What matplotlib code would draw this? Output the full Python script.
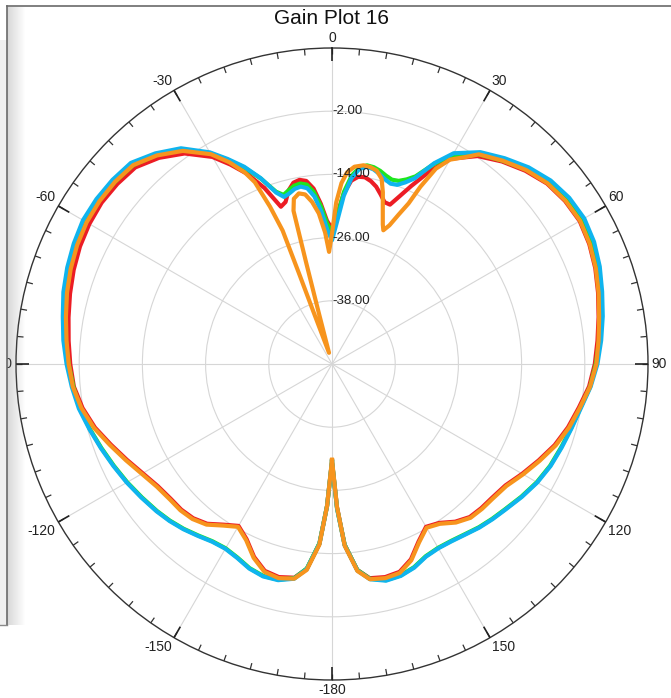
import numpy as np
import matplotlib.pyplot as plt
from matplotlib.patches import Rectangle
from matplotlib.lines import Line2D

plt.rcParams['font.family'] = ['Liberation Sans', 'DejaVu Sans']

# angles (deg, clockwise from top) shared by the red, green and blue traces
ang = [-180, -178, -176, -173, -170, -166, -162, -158, -154, -150, -146, -142, -138, -134, -130,
       -125, -120, -115, -110, -105, -100, -95, -90, -85, -80, -75, -70, -65, -60, -55, -50, -45,
       -40, -35, -30, -27, -24, -21, -18, -16, -14, -12, -10, -8, -6, -4, -2, 0,
       2, 4, 6, 8, 10, 12, 14, 16, 18, 20, 22, 24, 27, 30, 35, 40, 45, 50, 55, 60, 65, 70,
       75, 80, 85, 90, 95, 100, 105, 110, 115, 120, 125, 130, 134, 138, 142, 146, 150, 154,
       158, 162, 166, 170, 173, 176, 178, 180]

gain_blue = [-31.5, -23.0, -15.8, -10.8, -8.6, -7.7, -7.6, -8.1, -9.0, -9.5, -9.3, -8.6, -7.8, -7.1, -6.5,
             -5.8, -5.0, -4.2, -3.3, -2.3, -1.2, -0.4, 0.4, 1.2, 1.9, 2.8, 3.5, 4.1, 4.6, 4.6, 4.4, 4.0,
             2.2, 0.0, -3.6, -6.3, -9.0, -12.2, -15.8, -17.0, -16.6, -16.0, -15.8, -16.3, -18.0, -21.0, -24.5, -26.5,
             -23.0, -18.0, -14.5, -12.6, -12.0, -12.2, -12.8, -13.5, -14.0, -13.8, -12.8, -11.4, -7.2, -3.8, -0.9, 1.0,
             2.8, 4.2, 5.0, 5.3, 4.9, 4.1, 3.1, 2.2, 1.3, 0.4, -0.7, -2.0, -2.9, -3.6, -4.2, -5.0, -6.0, -7.0,
             -7.6, -8.2, -8.9, -9.4, -9.6, -9.3, -8.3, -7.7, -7.6, -8.5, -10.5, -15.5, -22.5, -31.5]

gain_green = [-31.5, -23.0, -15.9, -10.9, -8.7, -7.8, -7.7, -8.2, -9.1, -9.6, -9.4, -8.7, -7.9, -7.2, -6.6,
              -5.9, -5.1, -4.3, -3.4, -2.4, -1.4, -0.7, 0.0, 0.7, 1.4, 2.2, 2.9, 3.5, 3.9, 4.0, 3.8, 3.4,
              1.8, -0.3, -3.8, -6.5, -9.2, -12.3, -15.6, -16.6, -16.0, -15.4, -15.2, -15.6, -17.2, -20.0, -23.3, -25.0,
              -22.0, -17.2, -14.0, -12.3, -11.7, -11.8, -12.2, -12.8, -13.2, -13.0, -12.2, -11.0, -7.4, -4.2, -1.4, 0.4,
              2.2, 3.6, 4.4, 4.7, 4.3, 3.5, 2.6, 1.8, 0.9, 0.1, -0.8, -2.1, -3.0, -3.7, -4.3, -5.1, -6.1, -7.1,
              -7.7, -8.3, -9.0, -9.5, -9.7, -9.4, -8.4, -7.8, -7.7, -8.6, -10.6, -15.6, -22.6, -31.5]

gain_red = [-31.5, -23.0, -15.8, -10.8, -8.8, -8.3, -8.7, -10.5, -13.0, -14.5, -13.2, -11.5, -10.6, -10.2, -10.1,
            -9.6, -8.5, -7.0, -5.3, -3.4, -1.9, -0.8, -0.3, 0.2, 0.8, 1.5, 2.2, 2.8, 3.2, 3.4, 3.2, 2.8,
            1.1, -1.2, -4.6, -7.5, -10.5, -14.2, -18.6, -18.0, -16.0, -14.8, -14.5, -14.9, -16.5, -19.5, -22.8, -24.3,
            -21.5, -17.5, -15.0, -14.1, -14.0, -14.5, -15.3, -16.5, -17.7, -17.8, -15.6, -13.0, -8.8, -5.0, -1.8, 0.2,
            1.9, 3.3, 4.0, 4.3, 3.9, 3.2, 2.3, 1.4, 0.6, -0.1, -1.0, -2.4, -3.6, -5.0, -6.7, -8.3, -9.8, -10.4,
            -10.6, -10.9, -12.0, -13.6, -14.3, -12.5, -10.0, -8.5, -8.3, -8.7, -10.6, -15.6, -22.8, -31.5]

# the orange trace has a deep null near -15 deg, so it gets its own angles
ang_orange = [-180, -178, -176, -173, -170, -166, -162, -158, -154, -150, -146, -142, -138, -134, -130,
              -125, -120, -115, -110, -105, -100, -95, -90, -85, -80, -75, -70, -65, -60, -55, -50, -45,
              -40, -35, -30, -27, -24.5, -23, -21.5, -20.3, -20, -19.5, -15, -14.5, -14.3, -14.1, -13,
              -11, -9, -7, -5, -3, -1.5, 0, 1.5, 3, 4.5, 6.5, 9, 11, 13, 15, 16.5, 18, 20, 21, 22.5,
              24, 25.5, 26.5, 28, 30, 33, 35, 40, 45, 50, 55, 60, 65, 70, 75, 80, 85, 90, 95, 100,
              105, 110, 115, 120, 125, 130, 134, 138, 142, 146, 150, 154, 158, 162, 166, 170, 173,
              176, 178, 180]

gain_orange = [-31.8, -23.0, -15.6, -10.6, -8.6, -8.1, -8.5, -10.3, -12.8, -14.3, -13.0, -11.3, -10.4, -10.0, -9.9,
               -9.4, -8.3, -6.8, -5.1, -3.2, -1.7, -0.6, 0.0, 0.6, 1.3, 2.1, 2.8, 3.4, 3.8, 3.9, 3.8, 3.4,
               1.7, -0.6, -4.0, -7.0, -10.0, -12.5, -17.9, -23.0, -32.0, -40.0, -47.8, -40.0, -30.0, -20.0, -17.8,
               -17.0, -17.4, -19.0, -21.3, -25.0, -28.7, -25.2, -19.3, -15.6, -13.5, -12.3, -11.8, -11.9, -12.3, -13.6,
               -16.0, -18.8, -21.8, -22.8, -21.5, -19.0, -16.2, -12.4, -8.0, -5.2, -3.1, -1.4, 0.4, 2.1, 3.4,
               4.1, 4.4, 4.0, 3.3, 2.4, 1.5, 0.8, 0.2, -0.8, -2.2, -3.4, -4.8, -6.5, -8.1, -9.6, -10.2,
               -10.4, -10.7, -11.8, -13.4, -14.1, -12.3, -9.8, -8.3, -8.1, -8.5, -10.4, -15.4, -22.8, -31.8]

ring_vals = [-38, -26, -14, -2]
theta_ticks = [0, 30, 60, 90, 120, 150, 180, 210, 240, 270, 300, 330]
theta_labels = ['0', '30', '60', '90', '120', '150', '-180', '-150', '-120', '-90', '-60', '-30']
minor_step = 5

W, H = 671, 698
cx, cy, R = 332, 364, 316
fig = plt.figure(figsize=(W / 100, H / 100), dpi=100)
ax = fig.add_axes([(cx - R) / W, (H - cy - R) / H, 2 * R / W, 2 * R / H], projection='polar')
ax.set_theta_zero_location('N')
ax.set_theta_direction(-1)
ax.set_rlim(-50, 10)

ax.set_yticks(ring_vals)
ax.set_yticklabels([])
ax.set_xticks(np.deg2rad(theta_ticks))
ax.set_xticklabels([])
ax.tick_params(axis='both', length=0)
ax.grid(True, color='#d6d6d6', lw=0.8)
ax.spines['polar'].set_color('#333333')
ax.spines['polar'].set_linewidth(1.0)

# inward tick marks on the outer ring
rmin, rmax = ax.get_ylim()
minor = np.deg2rad(np.arange(0, 360, minor_step))
ax.vlines(minor, rmax - 1.2, rmax, colors='#333333', lw=0.9, clip_on=False, zorder=3)
ax.vlines(np.deg2rad(theta_ticks), rmax - 2.4, rmax, colors='#222222', lw=1.2, clip_on=False, zorder=3)

# angle labels just outside the ring, anchored by the side they sit on
for t, lab in zip(theta_ticks, theta_labels):
    s, c = np.sin(np.deg2rad(t)), np.cos(np.deg2rad(t))
    ha = 'left' if s > 0.3 else ('right' if s < -0.3 else 'center')
    va = 'bottom' if c > 0.3 else ('top' if c < -0.3 else 'center')
    ax.text(np.deg2rad(t), rmax + 0.6, lab, ha=ha, va=va, fontsize=10, color='#222222')

for r in ring_vals:
    ax.text(0.0, r, f'{r:.2f}', ha='left', va='center', fontsize=9.5, color='#222222')

ax.plot(np.deg2rad(ang), gain_red, color='#ec1c24', lw=3.0)
ax.plot(np.deg2rad(ang), gain_green, color='#1ee61e', lw=3.0)
ax.plot(np.deg2rad(ang), gain_blue, color='#0fb4ee', lw=3.0)
ax.plot(np.deg2rad(ang_orange), gain_orange, color='#f7941d', lw=3.0)

fig.text(cx / W, 1 - 24 / H, 'Gain Plot 16', ha='center', va='baseline', fontsize=15, color='#111111')

# left window edge from the screenshot
fig.add_artist(Rectangle((0, (H - 625) / H), 7 / W, (625 - 40) / H, transform=fig.transFigure,
                         facecolor='#f0f0f0', edgecolor='none', zorder=10))
shadow = np.zeros((1, 18, 4))
shadow[..., :3] = 0.45
shadow[..., 3] = np.linspace(0.28, 0.0, 18)
sax = fig.add_axes([7 / W, (H - 625) / H, 18 / W, (625 - 7) / H], zorder=9)
sax.imshow(shadow, aspect='auto', interpolation='bilinear')
sax.axis('off')
fig.add_artist(Line2D([6.5 / W, 6.5 / W], [(H - 6) / H, (H - 625) / H], transform=fig.transFigure,
                      color='#6a6a6a', lw=1.2, zorder=11))
fig.add_artist(Line2D([6.5 / W, 1], [(H - 6) / H, (H - 6) / H], transform=fig.transFigure,
                      color='#6a6a6a', lw=1.2, zorder=11))
fig.add_artist(Line2D([0, 6.5 / W], [(H - 625) / H, (H - 625) / H], transform=fig.transFigure,
                      color='#8a8a8a', lw=1.0, zorder=11))

fig.savefig('out.png', dpi=100)
